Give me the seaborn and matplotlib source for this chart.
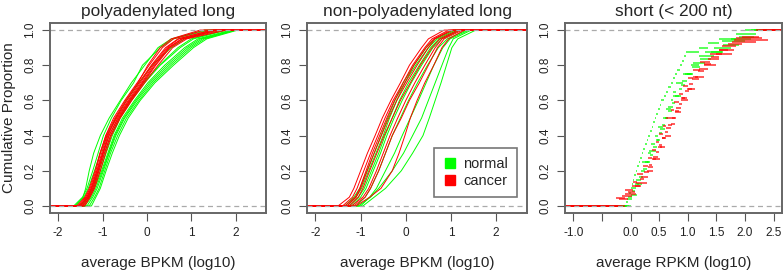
import numpy as np
import pandas as pd
import matplotlib
matplotlib.use("Agg")
import matplotlib.pyplot as plt
from matplotlib.lines import Line2D
import seaborn as sns

sns.set_style("white")
plt.rcParams['font.family'] = ['Liberation Sans', 'DejaVu Sans']

GREEN = "#00ff00"
RED = "#ff0000"

probs = [0.0, 0.05, 0.1, 0.2, 0.3, 0.4, 0.5, 0.6, 0.7, 0.8, 0.9, 0.95, 1.0]

# panel 1: polyadenylated long (average BPKM, log10)
poly_normal = [
    [-1.65, -1.45, -1.35, -1.22, -1.10, -0.98, -0.80, -0.58, -0.30, -0.10, 0.30, 0.60, 1.40],
    [-1.55, -1.30, -1.20, -1.05, -0.92, -0.78, -0.60, -0.35, -0.05, 0.30, 0.75, 1.05, 1.80],
    [-1.35, -1.22, -1.12, -0.98, -0.85, -0.70, -0.50, -0.22, 0.10, 0.50, 0.95, 1.25, 2.00],
    [-1.50, -1.32, -1.22, -1.08, -0.95, -0.82, -0.62, -0.38, -0.08, 0.28, 0.70, 1.00, 1.75],
    [-1.25, -1.15, -1.05, -0.92, -0.78, -0.62, -0.42, -0.15, 0.18, 0.60, 1.05, 1.35, 2.05],
    [-1.45, -1.28, -1.18, -1.02, -0.88, -0.74, -0.55, -0.28, 0.02, 0.40, 0.85, 1.15, 1.90],
    [-1.60, -1.42, -1.32, -1.18, -1.05, -0.90, -0.70, -0.46, -0.18, 0.12, 0.55, 0.85, 1.60],
    [-1.40, -1.25, -1.15, -1.00, -0.86, -0.72, -0.52, -0.25, 0.06, 0.45, 0.90, 1.20, 1.95],
    [-1.62, -1.44, -1.38, -1.30, -1.20, -1.05, -0.85, -0.60, -0.35, -0.05, 0.25, 0.55, 1.30],
    [-1.30, -1.18, -1.08, -0.95, -0.82, -0.66, -0.46, -0.18, 0.14, 0.55, 1.00, 1.30, 2.00],
]
poly_cancer = [
    [-1.55, -1.38, -1.28, -1.15, -1.05, -0.93, -0.75, -0.50, -0.22, 0.05, 0.35, 0.60, 1.30],
    [-1.50, -1.35, -1.25, -1.12, -1.00, -0.88, -0.70, -0.45, -0.18, 0.10, 0.42, 0.70, 1.45],
    [-1.45, -1.32, -1.22, -1.10, -0.98, -0.85, -0.66, -0.40, -0.12, 0.15, 0.48, 0.78, 1.60],
    [-1.42, -1.30, -1.20, -1.08, -0.96, -0.82, -0.62, -0.36, -0.08, 0.20, 0.52, 0.85, 1.70],
    [-1.58, -1.40, -1.30, -1.17, -1.06, -0.92, -0.72, -0.48, -0.20, 0.02, 0.30, 0.55, 1.20],
    [-1.40, -1.28, -1.18, -1.05, -0.93, -0.80, -0.60, -0.34, -0.05, 0.25, 0.58, 0.90, 1.80],
    [-1.52, -1.36, -1.26, -1.13, -1.02, -0.90, -0.68, -0.42, -0.15, 0.12, 0.45, 0.72, 1.50],
    [-1.47, -1.33, -1.24, -1.10, -0.99, -0.86, -0.64, -0.38, -0.10, 0.18, 0.50, 0.80, 1.55],
]

# panel 2: non-polyadenylated long (average BPKM, log10)
nonpoly_normal = [
    [-1.30, -1.10, -0.98, -0.82, -0.66, -0.50, -0.36, -0.20, -0.02, 0.22, 0.50, 0.70, 1.10],
    [-1.20, -1.00, -0.88, -0.72, -0.56, -0.42, -0.26, -0.08, 0.12, 0.35, 0.60, 0.80, 1.20],
    [-1.10, -0.90, -0.78, -0.60, -0.45, -0.30, -0.12, 0.06, 0.26, 0.48, 0.72, 0.92, 1.35],
    [-0.95, -0.70, -0.45, -0.10, 0.15, 0.38, 0.52, 0.65, 0.78, 0.90, 1.02, 1.15, 1.55],
    [-1.05, -0.78, -0.60, -0.30, -0.05, 0.15, 0.35, 0.50, 0.65, 0.80, 0.95, 1.05, 1.45],
    [-1.25, -1.05, -0.92, -0.76, -0.60, -0.46, -0.30, -0.14, 0.06, 0.30, 0.55, 0.75, 1.15],
    [-1.00, -0.80, -0.65, -0.45, -0.25, -0.08, 0.10, 0.28, 0.45, 0.62, 0.82, 0.98, 1.40],
    [-1.35, -1.15, -1.02, -0.86, -0.70, -0.55, -0.40, -0.24, -0.06, 0.18, 0.45, 0.65, 1.05],
]
nonpoly_cancer = [
    [-1.50, -1.25, -1.15, -1.00, -0.85, -0.68, -0.52, -0.33, -0.12, 0.08, 0.35, 0.50, 0.85],
    [-1.40, -1.18, -1.08, -0.93, -0.78, -0.62, -0.46, -0.28, -0.06, 0.15, 0.42, 0.58, 0.95],
    [-1.30, -1.10, -1.00, -0.85, -0.70, -0.54, -0.38, -0.20, 0.02, 0.25, 0.50, 0.65, 1.05],
    [-1.25, -1.05, -0.95, -0.80, -0.64, -0.48, -0.30, -0.12, 0.10, 0.32, 0.58, 0.75, 1.15],
    [-1.20, -0.95, -0.82, -0.65, -0.50, -0.35, -0.18, 0.00, 0.20, 0.42, 0.65, 0.80, 1.20],
    [-1.10, -0.80, -0.55, -0.30, -0.15, -0.02, 0.10, 0.25, 0.42, 0.62, 0.80, 0.95, 1.30],
    [-1.35, -1.12, -1.02, -0.88, -0.74, -0.58, -0.42, -0.25, -0.02, 0.18, 0.45, 0.62, 1.00],
    [-1.15, -0.90, -0.78, -0.60, -0.45, -0.30, -0.10, 0.08, 0.30, 0.50, 0.70, 0.85, 1.25],
]

# panel 3: short (< 200 nt), per-sample average RPKM (log10) values
short_normal = [
    [-0.08, -0.05, -0.03, 0.00, 0.02, 0.04, 0.06, 0.09, 0.11, 0.14, 0.17, 0.20, 0.22, 0.25,
     0.28, 0.31, 0.34, 0.37, 0.40, 0.42, 0.45, 0.48, 0.51, 0.54, 0.58, 0.62, 0.66, 0.70,
     0.74, 0.78, 0.82, 0.86, 0.90, 0.94, 0.97, 1.20, 1.35, 1.55, 1.85, 2.20],
    [-0.02, 0.03, 0.10, 0.18, 0.25, 0.30, 0.36, 0.42, 0.48, 0.57, 0.62, 0.70, 0.74, 0.80,
     0.92, 1.05, 1.20, 1.45, 1.75, 2.10],
    [0.00, 0.12, 0.20, 0.20, 0.33, 0.45, 0.52, 0.60, 0.66, 0.75, 0.88, 0.95, 1.10, 1.30,
     1.60, 2.00],
    [-0.06, 0.02, 0.08, 0.15, 0.22, 0.28, 0.34, 0.40, 0.46, 0.50, 0.55, 0.60, 0.66, 0.72,
     0.78, 0.84, 0.90, 0.98, 1.08, 1.22, 1.40, 1.62, 1.90, 2.15],
]
short_cancer = [
    [-0.25, -0.10, 0.05, 0.12, 0.22, 0.30, 0.38, 0.44, 0.50, 0.56, 0.62, 0.70, 0.76, 0.84,
     0.92, 1.00, 1.10, 1.22, 1.38, 1.60, 1.85, 2.30],
    [-0.15, 0.02, 0.18, 0.30, 0.40, 0.48, 0.55, 0.62, 0.70, 0.80, 0.88, 0.98, 1.08, 1.20,
     1.35, 1.55, 1.80, 2.40],
    [-0.20, -0.05, 0.08, 0.16, 0.24, 0.32, 0.38, 0.44, 0.50, 0.55, 0.60, 0.66, 0.72, 0.78,
     0.84, 0.90, 0.96, 1.03, 1.10, 1.18, 1.28, 1.40, 1.55, 1.70, 1.95, 2.25],
    [-0.10, 0.10, 0.28, 0.40, 0.52, 0.60, 0.70, 0.78, 0.88, 1.00, 1.12, 1.28, 1.50, 1.78,
     2.20],
]

titles = ["polyadenylated long", "non-polyadenylated long", "short (< 200 nt)"]
xlabels = ["average BPKM (log10)", "average BPKM (log10)", "average RPKM (log10)"]
xlims = [(-2.18, 2.68), (-2.18, 2.68), (-1.14, 2.64)]
xticks_long = [-2, -1, 0, 1, 2]
xticks_short = [-1.0, -0.5, 0.0, 0.5, 1.0, 1.5, 2.0, 2.5]
xticklabels_short = ["-1.0", "", "0.0", "0.5", "1.0", "1.5", "2.0", "2.5"]
yticks = [0.0, 0.2, 0.4, 0.6, 0.8, 1.0]

fig = plt.figure(figsize=(7.84, 2.71), dpi=100)
boxes = [[0.064, 0.214, 0.275, 0.701],
         [0.392, 0.214, 0.280, 0.701],
         [0.721, 0.214, 0.276, 0.701]]
axes = [fig.add_axes(b) for b in boxes]


def long_frame(normal, cancer, xlim):
    rows = []
    for grp, curves in (("normal", normal), ("cancer", cancer)):
        for i, vals in enumerate(curves):
            xs = [xlim[0]] + vals + [xlim[1]]
            ps = [0.0] + probs + [1.0]
            for x, p in zip(xs, ps):
                rows.append({"x": x, "p": p, "group": grp, "sample": f"{grp}{i}"})
    return pd.DataFrame(rows)


pal = {"normal": GREEN, "cancer": RED}
for ax, (nrm, cnc), xl in zip(axes[:2], [(poly_normal, poly_cancer), (nonpoly_normal, nonpoly_cancer)], xlims[:2]):
    df = long_frame(nrm, cnc, xl)
    sns.lineplot(data=df, x="x", y="p", hue="group", hue_order=["normal", "cancer"],
                 units="sample", estimator=None, sort=False, palette=pal,
                 legend=False, lw=0.7, ax=ax)

# short panel: ECDF drawn as horizontal steps only (no verticals)
ax3 = axes[2]
for curves, col in ((short_normal, GREEN), (short_cancer, RED)):
    for vals in curves:
        v = np.sort(np.asarray(vals))
        n = len(v)
        levels = np.arange(n + 1) / n
        starts = np.concatenate([[xlims[2][0]], v])
        ends = np.concatenate([v, [xlims[2][1]]])
        keep = ends > starts
        ax3.hlines(levels[keep], starts[keep], ends[keep], color=col, lw=1.3, alpha=0.7)

for i, ax in enumerate(axes):
    ax.axhline(0, color="#aaaaaa", lw=0.9, ls=(0, (4, 3)))
    ax.axhline(1, color="#aaaaaa", lw=0.9, ls=(0, (4, 3)))
    ax.set_xlim(*xlims[i])
    ax.set_ylim(-0.04, 1.04)
    ax.set_title(titles[i], fontsize=12.4, pad=5)
    ax.set_xlabel(xlabels[i], fontsize=11, labelpad=12)
    ax.set_ylabel("")
    if i < 2:
        ax.set_xticks(xticks_long)
        ax.set_xticklabels([str(t) for t in xticks_long])
    else:
        ax.set_xticks(xticks_short)
        ax.set_xticklabels(xticklabels_short)
    ax.set_yticks(yticks)
    ax.set_yticklabels([f"{t:.1f}" for t in yticks], rotation=90, va="center")
    ax.tick_params(axis="both", direction="out", length=6, width=0.8, color="#555555",
                   labelsize=8.5, labelcolor="#222222", bottom=True, left=True, pad=4)
    for s in ax.spines.values():
        s.set_color("#666666")
        s.set_linewidth(1.4)

axes[0].set_ylabel("Cumulative Proportion", fontsize=11, labelpad=6)

handles = [Line2D([], [], marker="s", ls="", color=GREEN, markersize=6.5),
           Line2D([], [], marker="s", ls="", color=RED, markersize=6.5)]
leg = axes[1].legend(handles, ["normal", "cancer"], loc="lower right",
                     bbox_to_anchor=(0.955, 0.084), borderaxespad=0, fontsize=10.5,
                     frameon=True, fancybox=False, handletextpad=0.4, borderpad=0.6,
                     labelspacing=0.25, handlelength=1.0)
leg.get_frame().set_edgecolor("#555555")
leg.get_frame().set_linewidth(1.2)

fig.savefig("out.png", dpi=100)
